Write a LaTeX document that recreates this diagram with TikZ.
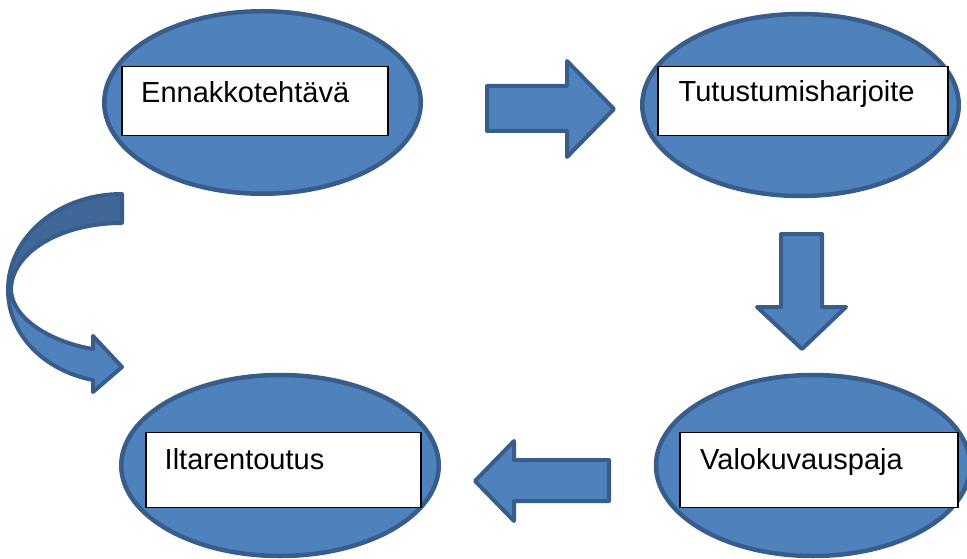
\documentclass[tikz,border=0pt]{standalone}
\usepackage{fontspec}
\setmainfont{Liberation Sans}
\usetikzlibrary{shapes.geometric}
\definecolor{fillblue}{HTML}{4F81BD}
\definecolor{edgeblue}{HTML}{385D8A}
\definecolor{backblue}{HTML}{3F6797}
\begin{document}
\begin{tikzpicture}[x=1pt,y=-1pt,
  oval/.style={ellipse, draw=edgeblue, fill=fillblue, line width=4.5pt, inner sep=0pt},
  labelbox/.style={rectangle, draw=black, fill=white, line width=1.8pt, inner sep=0pt},
  labeltext/.style={anchor=base west, inner sep=0pt, font=\fontsize{29}{34}\selectfont},
  blockarrow/.style={draw=edgeblue, fill=fillblue, line width=4pt, line join=round},
  backface/.style={draw=edgeblue, fill=backblue, line width=4pt, line join=round}]
\useasboundingbox (0,0) rectangle (967,559);

% ovals
\node[oval, minimum width=316.5pt, minimum height=182.5pt] (e1) at (262.5,102.5) {};
\node[oval, minimum width=316.5pt, minimum height=182pt] (e2) at (800.5,105) {};
\node[oval, minimum width=317.5pt, minimum height=181pt] (e3) at (280,465.5) {};
\node[oval, minimum width=314pt, minimum height=181pt] (e4) at (813,465.5) {};

% boxes
\node[labelbox, minimum width=266pt, minimum height=69pt] (b1) at (255,101) {};
\node[labelbox, minimum width=290pt, minimum height=69pt] (b2) at (803,101) {};
\node[labelbox, minimum width=275pt, minimum height=75pt] (b3) at (283.5,470) {};
\node[labelbox, minimum width=278pt, minimum height=75pt] (b4) at (819,470) {};

% texts
\node[labeltext] (t1) at (141,102.5) {Ennakkotehtävä};
\node[labeltext] (t2) at (678.5,102) {Tutustumisharjoite};
\node[labeltext] (t3) at (164.5,469) {Iltarentoutus};
\node[labeltext] (t4) at (700,469) {Valokuvauspaja};

% right arrow
\draw[blockarrow] (487,86) -- (567,86) -- (567,61) -- (614,109) -- (567,157) -- (567,131) -- (487,131) -- cycle;
% down arrow
\draw[blockarrow] (781,234) -- (822,234) -- (822,307) -- (846,307) -- (802,349) -- (757,307) -- (781,307) -- cycle;
% left arrow
\draw[blockarrow] (609,460) -- (514,460) -- (514,441) -- (475,481) -- (514,521) -- (514,501) -- (609,501) -- cycle;

% curved arrow: back face
\draw[backface] (122,194) .. controls (58,194) and (8,237) .. (8,290)
  -- (11,290) .. controls (11,253) and (60,223) .. (122,223) -- cycle;
% curved arrow: front face
\draw[blockarrow] (8,290) .. controls (8,335) and (45,371) .. (93,380)
  -- (93,392) -- (122,367) -- (93,336) -- (93,349)
  .. controls (50,342) and (12,318) .. (11,290) -- cycle;
\end{tikzpicture}
\end{document}
